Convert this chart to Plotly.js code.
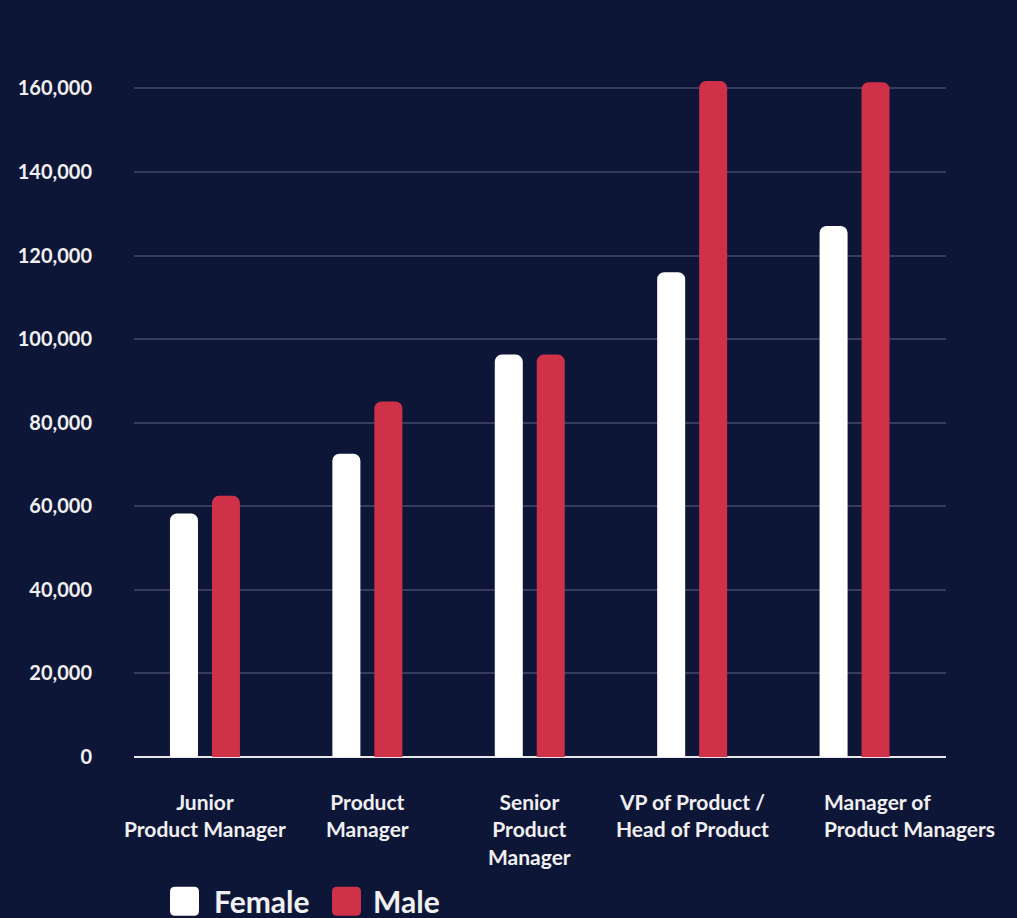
<!DOCTYPE html>
<html>
<head>
<meta charset="utf-8">
<script src="https://cdn.plot.ly/plotly-3.0.1.min.js"></script>
<style>
html,body{margin:0;padding:0;background:#0e1638;}
#chart{width:1017px;height:918px;}
</style>
</head>
<body>
<div id="chart"></div>
<script>
const categories = ["Junior<br>Product Manager", "Product<br>Manager", "Senior<br>Product<br>Manager", "VP of Product /<br>Head of Product", "Manager of<br>Product Managers"];
const femaleValues = [58300, 72600, 96300, 116000, 127100];
const maleValues = [62500, 85100, 96300, 161800, 161500];
const seriesNames = ["Female", "Male"];
const yTickValues = [0, 20000, 40000, 60000, 80000, 100000, 120000, 140000, 160000];
const yTickLabels = ["0", "20,000", "40,000", "60,000", "80,000", "100,000", "120,000", "140,000", "160,000"];

const BG = "#0e1638";
const RED = "#cf3149";
const WHITE = "#ffffff";
const TEXT = "#f0f0f2";
const FONT = "Lato, 'Open Sans', sans-serif";

const xIdx = categories.map((c, i) => i);

const traces = [
  {type: "bar", name: seriesNames[0], x: xIdx, y: femaleValues,
   marker: {color: WHITE, cornerradius: 7}, hoverinfo: "y"},
  {type: "bar", name: seriesNames[1], x: xIdx, y: maleValues,
   marker: {color: RED, cornerradius: 7}, hoverinfo: "y"}
];

const annotations = categories.map((c, i) => {
  const last = i === categories.length - 1;
  return {
    x: i, xref: "x", y: -0.043, yref: "paper",
    text: c, showarrow: false,
    xanchor: last ? "left" : "center", xshift: last ? -33 : 0,
    yanchor: "top", align: last ? "left" : "center",
    font: {family: FONT, size: 21, color: TEXT, weight: 700}
  };
});

// legend (manual)
const legendColors = [WHITE, RED];
const legendSquareX = [0.0622, 0.2617];
const legendTextX = [0.0955, 0.2918];
const sq = "M -9.5,-14.5 H 9.5 Q 14.5,-14.5 14.5,-9.5 V 9.5 Q 14.5,14.5 9.5,14.5 H -9.5 Q -14.5,14.5 -14.5,9.5 V -9.5 Q -14.5,-14.5 -9.5,-14.5 Z";
const shapes = seriesNames.map((n, i) => ({
  type: "path", xref: "paper", yref: "paper",
  xsizemode: "pixel", ysizemode: "pixel",
  xanchor: legendSquareX[i], yanchor: -0.2056,
  path: sq, fillcolor: legendColors[i], line: {width: 0}
}));
seriesNames.forEach((n, i) => {
  annotations.push({
    x: legendTextX[i], xref: "paper", y: -0.2056, yref: "paper",
    text: n, showarrow: false, xanchor: "left", yanchor: "middle",
    font: {family: FONT, size: 30, color: TEXT, weight: 700}
  });
});

const layout = {
  width: 1017, height: 918,
  paper_bgcolor: BG, plot_bgcolor: BG,
  margin: {l: 134, r: 71, t: 55, b: 161},
  showlegend: false,
  barmode: "group",
  bargap: 0.483,
  bargroupgap: 0.333,
  font: {family: FONT, color: TEXT},
  xaxis: {
    range: [-0.437, 4.563],
    tickvals: xIdx, showticklabels: false,
    showgrid: false, zeroline: false,
    showline: false, fixedrange: true
  },
  yaxis: {
    range: [0, 168000],
    tickvals: yTickValues, ticktext: yTickLabels,
    showgrid: true, gridcolor: "#373c5e", gridwidth: 2,
    zeroline: true, zerolinecolor: "#e8e8ec", zerolinewidth: 2,
    ticks: "outside", ticklen: 37, tickcolor: "rgba(0,0,0,0)",
    tickfont: {family: FONT, size: 20, color: TEXT, weight: 700},
    showline: false, fixedrange: true
  },
  shapes: shapes,
  annotations: annotations
};

Plotly.newPlot("chart", traces, layout, {displayModeBar: false, staticPlot: true});
</script>
</body>
</html>
